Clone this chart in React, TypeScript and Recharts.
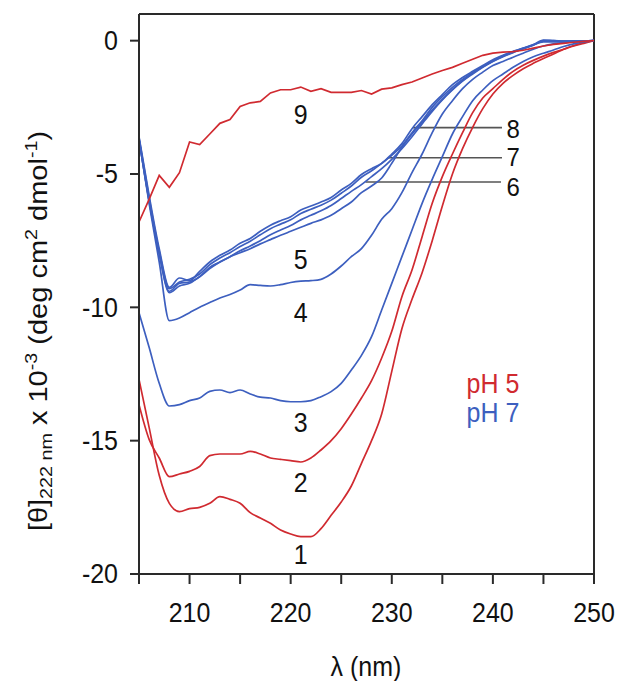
import React from 'react';
import { LineChart, Line, XAxis, YAxis, ReferenceLine, ReferenceDot } from 'recharts';

const wavelengths = [205, 206, 207, 208, 209, 210, 211, 212, 213, 214, 215, 216, 217, 218, 219, 220, 221, 222, 223, 224, 225, 226, 227, 228, 229, 230, 231, 232, 233, 234, 235, 236, 237, 238, 239, 240, 241, 242, 243, 244, 245, 246, 247, 248, 249, 250];

// pH 5
const curve1 = [-12.7, -14.5, -16.3, -17.35, -17.66, -17.55, -17.5, -17.35, -17.1, -17.2, -17.35, -17.7, -17.9, -18.1, -18.35, -18.5, -18.6, -18.6, -18.3, -17.8, -17.3, -16.7, -15.85, -15.0, -14.0, -12.4, -10.8, -9.7, -8.7, -7.5, -6.2, -5.0, -4.05, -3.25, -2.55, -2.0, -1.6, -1.3, -1.05, -0.85, -0.67, -0.5, -0.32, -0.18, -0.07, 0];
const curve2 = [-13.65, -14.95, -15.65, -16.35, -16.25, -16.15, -15.97, -15.56, -15.5, -15.5, -15.5, -15.4, -15.5, -15.65, -15.7, -15.75, -15.8, -15.65, -15.35, -15.0, -14.55, -14.0, -13.4, -12.75, -11.9, -10.9, -9.6, -8.6, -7.35, -6.1, -5.1, -4.25, -3.45, -2.7, -2.15, -1.8, -1.45, -1.15, -0.92, -0.74, -0.58, -0.44, -0.32, -0.2, -0.1, 0];
const curve9 = [-6.8, -5.95, -5.05, -5.5, -4.95, -3.8, -3.9, -3.5, -3.1, -2.96, -2.47, -2.33, -2.28, -1.96, -1.84, -1.84, -1.74, -1.9, -1.8, -1.94, -1.94, -1.94, -1.87, -2.0, -1.82, -1.77, -1.65, -1.55, -1.4, -1.25, -1.12, -1.0, -0.85, -0.7, -0.55, -0.47, -0.43, -0.41, -0.36, -0.28, -0.2, -0.14, -0.1, -0.06, -0.03, 0];
// pH 7
const curve3 = [-10.2, -11.5, -12.85, -13.7, -13.65, -13.5, -13.4, -13.15, -13.1, -13.2, -13.1, -13.25, -13.37, -13.4, -13.5, -13.54, -13.54, -13.5, -13.35, -13.16, -12.85, -12.35, -11.8, -11.1, -10.1, -9.1, -8.1, -7.1, -6.1, -5.2, -4.35, -3.5, -2.85, -2.25, -1.85, -1.5, -1.25, -1.0, -0.78, -0.6, -0.47, -0.35, -0.22, -0.12, -0.05, 0];
const curve4 = [-3.7, -6.1, -8.3, -10.5, -10.4, -10.2, -10.0, -9.82, -9.65, -9.52, -9.35, -9.15, -9.18, -9.2, -9.15, -9.07, -9.02, -9.0, -8.95, -8.75, -8.45, -8.1, -7.8, -7.3, -6.7, -6.3, -5.7, -4.95, -4.25, -3.45, -2.75, -2.25, -1.8, -1.45, -1.18, -0.93, -0.78, -0.62, -0.47, -0.32, -0.2, -0.12, -0.07, -0.04, -0.02, 0];
const curve5 = [-3.7, -6.0, -8.0, -9.45, -9.2, -9.1, -8.85, -8.5, -8.3, -8.1, -7.95, -7.8, -7.62, -7.46, -7.3, -7.15, -7.0, -6.85, -6.72, -6.55, -6.3, -6.05, -5.7, -5.45, -5.15, -4.6, -4.0, -3.5, -3.05, -2.6, -2.2, -1.83, -1.5, -1.22, -0.98, -0.76, -0.57, -0.42, -0.28, -0.15, -0.05, -0.05, -0.05, -0.03, -0.01, 0];
const curve6 = [-3.7, -6.0, -8.0, -9.4, -9.1, -9.05, -8.85, -8.55, -8.3, -8.1, -7.88, -7.7, -7.5, -7.28, -7.1, -6.93, -6.72, -6.55, -6.38, -6.18, -5.92, -5.65, -5.4, -5.1, -4.8, -4.45, -4.05, -3.6, -3.12, -2.65, -2.22, -1.85, -1.52, -1.25, -1.0, -0.78, -0.6, -0.45, -0.3, -0.17, -0.02, -0.02, -0.03, -0.02, -0.01, 0];
const curve7 = [-3.65, -5.9, -7.9, -9.3, -9.05, -8.95, -8.75, -8.4, -8.15, -7.95, -7.72, -7.52, -7.28, -7.05, -6.88, -6.72, -6.48, -6.32, -6.17, -5.98, -5.72, -5.45, -5.12, -4.88, -4.6, -4.3, -3.95, -3.45, -3.0, -2.5, -2.1, -1.75, -1.45, -1.2, -0.97, -0.76, -0.58, -0.43, -0.3, -0.16, 0.0, 0.0, -0.02, -0.02, -0.01, 0];
const curve8 = [-3.6, -5.8, -7.8, -9.25, -8.9, -9.0, -8.65, -8.3, -8.05, -7.85, -7.6, -7.42, -7.15, -6.92, -6.75, -6.6, -6.35, -6.2, -6.05, -5.88, -5.6, -5.35, -5.02, -4.8, -4.6, -4.25, -3.86, -3.3, -2.85, -2.4, -2.02, -1.65, -1.38, -1.15, -0.93, -0.72, -0.55, -0.4, -0.29, -0.15, 0.02, 0.0, -0.02, -0.02, -0.01, 0];

const xTicks = [205, 210, 215, 220, 225, 230, 235, 240, 245, 250];
const yTicks = [-20, -15, -10, -5, 0];

const seriesKeys = ['c1', 'c2', 'c3', 'c4', 'c5', 'c6', 'c7', 'c8', 'c9'];
const seriesValues = [curve1, curve2, curve3, curve4, curve5, curve6, curve7, curve8, curve9];
const seriesPh = [5, 5, 7, 7, 7, 7, 7, 7, 5];

// curve number labels (data coordinates)
const curveLabels = [
  { text: '1', x: 221, y: -19.27 },
  { text: '2', x: 221, y: -16.57 },
  { text: '3', x: 221, y: -14.32 },
  { text: '4', x: 221, y: -10.2 },
  { text: '5', x: 221, y: -8.21 },
  { text: '9', x: 221, y: -2.77 },
];
const leaderLabels = [
  { text: '8', from: 232.1, to: 240.9, y: -3.26, labelY: -3.3 },
  { text: '7', from: 229.6, to: 240.9, y: -4.39, labelY: -4.33 },
  { text: '6', from: 227.4, to: 240.8, y: -5.3, labelY: -5.46 },
];
const leaderLabelX = 242.0;
const phLabels = [
  { text: 'pH 5', x: 237.4, y: -12.86, ph: 5 },
  { text: 'pH 7', x: 237.4, y: -13.95, ph: 7 },
];

const data = wavelengths.map((wl, i) => {
  const row: Record<string, number> = { wl };
  seriesKeys.forEach((k, j) => {
    row[k] = seriesValues[j][i];
  });
  return row;
});

const FONT = '"Liberation Sans", Arial, Helvetica, sans-serif';
const RED = '#d02a30';
const BLUE = '#3d5fbf';
const AXIS = '#2a2a2a';
const STRETCH = 1.1;

const centerLabel = (text: string, color: string, size: number) => (props: any) => {
  const vb = props.viewBox || {};
  const cx = (vb.x ?? 0) + (vb.width ?? 0) / 2;
  const cy = (vb.y ?? 0) + (vb.height ?? 0) / 2;
  return (
    <text
      transform={`translate(${cx}, ${cy}) scale(1, ${STRETCH})`}
      x={0}
      y={0}
      textAnchor="middle"
      dominantBaseline="central"
      fill={color}
      fontSize={size}
      fontFamily={FONT}
    >
      {text}
    </text>
  );
};

const startLabel = (text: string, color: string, size: number) => (props: any) => {
  const vb = props.viewBox || {};
  const cx = (vb.x ?? 0) + (vb.width ?? 0) / 2;
  const cy = (vb.y ?? 0) + (vb.height ?? 0) / 2;
  return (
    <text
      transform={`translate(${cx}, ${cy}) scale(1, ${STRETCH})`}
      x={0}
      y={0}
      textAnchor="start"
      dominantBaseline="central"
      fill={color}
      fontSize={size}
      fontFamily={FONT}
    >
      {text}
    </text>
  );
};

const XTick = (props: any) => {
  const { x, y, payload } = props;
  const v = payload.value as number;
  if (v % 10 !== 0) return <g />;
  return (
    <text
      transform={`translate(${x}, ${y}) scale(1, ${STRETCH})`}
      x={0}
      y={0}
      dy="0.72em"
      textAnchor="middle"
      fill="#111"
      fontSize={25}
      fontFamily={FONT}
    >
      {String(v)}
    </text>
  );
};

const YTick = (props: any) => {
  const { x, y, payload } = props;
  return (
    <text
      transform={`translate(${x}, ${y}) scale(1, ${STRETCH})`}
      x={0}
      y={0}
      dominantBaseline="central"
      textAnchor="end"
      fill="#111"
      fontSize={25}
      fontFamily={FONT}
    >
      {String(payload.value)}
    </text>
  );
};

const YTitle = () => {
  const x = 47;
  const y = 331;
  return (
    <text transform={`translate(${x}, ${y}) rotate(-90) scale(1.16, 1)`} x={0} y={0} textAnchor="middle" fill="#111" fontSize={25} fontFamily={FONT}>
      [θ]
      <tspan fontSize={17} dy={5}>222 nm</tspan>
      <tspan fontSize={25} dy={-5}> x 10</tspan>
      <tspan fontSize={17} dy={-10}>-3</tspan>
      <tspan fontSize={25} dy={10}> (deg cm</tspan>
      <tspan fontSize={17} dy={-10}>2</tspan>
      <tspan fontSize={25} dy={10}> dmol</tspan>
      <tspan fontSize={17} dy={-10}>-1</tspan>
      <tspan fontSize={25} dy={10}>)</tspan>
    </text>
  );
};

const XTitle = () => (
  <text transform={`translate(366, 676) scale(1, ${STRETCH})`} x={0} y={0} textAnchor="middle" fill="#111" fontSize={25} fontFamily={FONT}>
    λ (nm)
  </text>
);

export default function App() {
  return (
    <div style={{ position: 'absolute', left: 0, top: 0, background: '#fff' }}>
      <LineChart width={618} height={681} data={data} margin={{ top: 14, right: 24, bottom: 0, left: 0 }}>
        <XAxis
          dataKey="wl"
          type="number"
          domain={[205, 250]}
          ticks={xTicks}
          height={107}
          tickSize={10}
          tickMargin={18}
          axisLine={{ stroke: AXIS, strokeWidth: 2 }}
          tickLine={{ stroke: AXIS, strokeWidth: 2 }}
          tick={XTick}
          interval={0}
          allowDataOverflow
          label={{ content: XTitle }}
        />
        <YAxis
          type="number"
          domain={[-20, 1]}
          ticks={yTicks}
          width={139}
          tickSize={9}
          tickMargin={12}
          axisLine={{ stroke: AXIS, strokeWidth: 2 }}
          tickLine={{ stroke: AXIS, strokeWidth: 2 }}
          tick={YTick}
          interval={0}
          allowDataOverflow
          label={{ content: YTitle }}
        />
        <ReferenceLine y={1} stroke={AXIS} strokeWidth={2} />
        <ReferenceLine x={250} stroke={AXIS} strokeWidth={2} />
        {leaderLabels.map((l) => (
          <ReferenceLine
            key={'ll' + l.text}
            segment={[{ x: l.from, y: l.y }, { x: l.to, y: l.y }]}
            stroke="#555"
            strokeWidth={1.6}
          />
        ))}
        {seriesKeys.map((k, j) => (
          <Line
            key={k}
            dataKey={k}
            type={j === 8 ? 'linear' : 'monotone'}
            stroke={seriesPh[j] === 5 ? RED : BLUE}
            strokeWidth={1.7}
            dot={false}
            activeDot={false}
            isAnimationActive={false}
          />
        ))}
        {curveLabels.map((l) => (
          <ReferenceDot key={'cl' + l.text} x={l.x} y={l.y} r={0} fill="none" stroke="none" label={{ content: centerLabel(l.text, '#111', 25) }} />
        ))}
        {leaderLabels.map((l) => (
          <ReferenceDot key={'lt' + l.text} x={leaderLabelX} y={l.labelY} r={0} fill="none" stroke="none" label={{ content: centerLabel(l.text, '#111', 24) }} />
        ))}
        {phLabels.map((l) => (
          <ReferenceDot key={'ph' + l.text} x={l.x} y={l.y} r={0} fill="none" stroke="none" label={{ content: startLabel(l.text, l.ph === 5 ? RED : BLUE, 25) }} />
        ))}
      </LineChart>
    </div>
  );
}
